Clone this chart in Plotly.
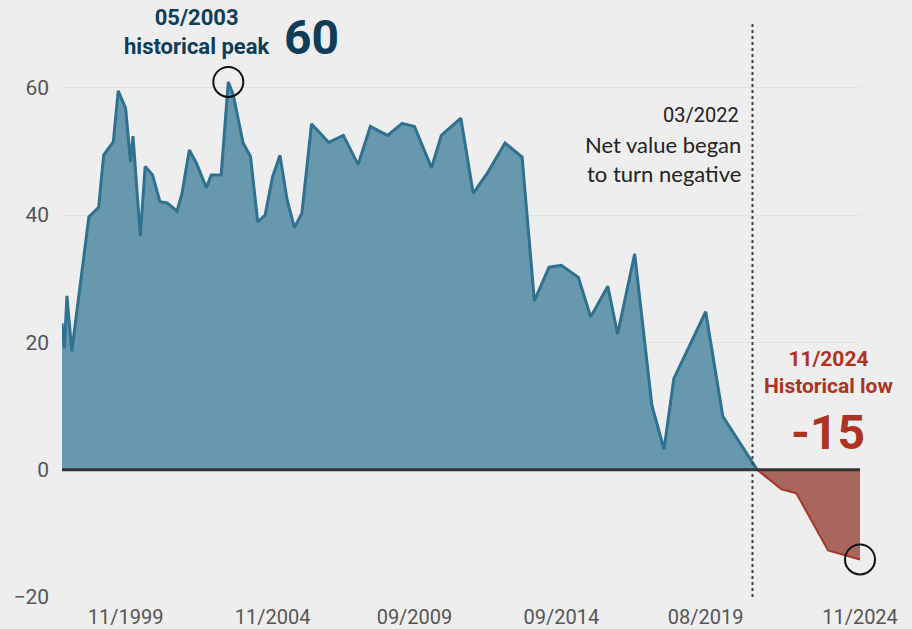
import plotly.graph_objects as go

# ---- data ----
dates = ["1997-09-01", "1997-10-01", "1997-11-01", "1998-01-01", "1998-08-01", "1998-11-01",
         "1998-12-01", "1999-02-01", "1999-04-01", "1999-06-01", "1999-08-01", "1999-11-01",
         "2000-01-01", "2000-02-01", "2000-05-01", "2000-07-01", "2000-10-01", "2001-01-01",
         "2001-04-01", "2001-08-01", "2001-10-01", "2002-01-01", "2002-04-01", "2002-08-01",
         "2002-10-01", "2003-02-01", "2003-05-01", "2003-07-01", "2003-11-01", "2004-02-01",
         "2004-05-01", "2004-08-01", "2004-11-01", "2005-02-01", "2005-05-01", "2005-08-01",
         "2005-11-01", "2006-03-01", "2006-10-01", "2007-04-01", "2007-10-01", "2008-03-01",
         "2008-10-01", "2009-04-01", "2009-09-01", "2010-04-01", "2010-08-01", "2011-04-01",
         "2011-09-01", "2012-03-01", "2012-10-01", "2013-05-01", "2013-10-01", "2014-04-01",
         "2014-09-01", "2015-04-01", "2015-09-01", "2016-04-01", "2016-08-01", "2017-03-01",
         "2017-10-01", "2018-03-01", "2018-07-01", "2019-08-01", "2020-03-01", "2021-05-01",
         "2022-03-01", "2022-09-01", "2023-10-01", "2024-11-01"]
values = [23.0, 19.1, 27.3, 18.6, 39.7, 40.8,
          41.2, 49.4, 50.5, 51.5, 59.5, 56.8,
          48.3, 52.4, 36.7, 47.6, 46.3, 42.1,
          41.9, 40.6, 43.3, 50.2, 48.1, 44.3,
          46.3, 46.3, 60.9, 58.9, 51.3, 49.2,
          38.9, 40.0, 46.0, 49.4, 42.4, 38.0,
          40.3, 54.3, 51.4, 52.5, 47.9, 53.9,
          52.5, 54.4, 53.9, 47.4, 52.5, 55.2,
          43.4, 46.7, 51.3, 49.1, 26.5, 31.8,
          32.1, 30.2, 24.0, 28.8, 21.3, 33.9,
          10.1, 3.2, 14.3, 24.8, 8.4, 0.0,
          -3.1, -3.7, -12.7, -14.1]

tick_dates = ["1999-11-01", "2004-11-01", "2009-09-01", "2014-09-01", "2019-08-01", "2024-11-01"]
tick_labels = ["11/1999", "11/2004", "09/2009", "09/2014", "08/2019", "11/2024"]
y_ticks = [-20, 0, 20, 40, 60]
turn_date = "2021-03-05"
peak_date, peak_value = "2003-05-01", 60.9
low_date, low_value = "2024-11-01", -14.1

# split at the zero crossing point
cross = values.index(0.0)
pos_x, pos_y = dates[:cross + 1], values[:cross + 1]
neg_x, neg_y = dates[cross:], values[cross:]

BLUE_LINE = "#2e7190"
BLUE_FILL = "#6898ad"
RED_LINE = "#a3382a"
RED_FILL = "#a8665c"
NAVY = "#0f3d57"
RED_TXT = "#ad3322"
BG = "#eeeeee"

fig = go.Figure()
fig.add_trace(go.Scatter(x=pos_x, y=pos_y, mode="lines", fill="tozeroy",
                         fillcolor=BLUE_FILL, line=dict(color=BLUE_LINE, width=3),
                         hoverinfo="skip", showlegend=False))
fig.add_trace(go.Scatter(x=neg_x, y=neg_y, mode="lines", fill="tozeroy",
                         fillcolor=RED_FILL, line=dict(color=RED_LINE, width=2),
                         hoverinfo="skip", showlegend=False))
fig.add_trace(go.Scatter(x=[peak_date, low_date], y=[peak_value, low_value], mode="markers",
                         marker=dict(symbol="circle-open", size=30, color="#111",
                                     line=dict(width=2, color="#111")),
                         hoverinfo="skip", showlegend=False, cliponaxis=False))

# zero line and turning point line
fig.add_shape(type="line", xref="paper", x0=0, x1=1, yref="y", y0=0, y1=0,
              line=dict(color="#333333", width=3), layer="above")
fig.add_shape(type="line", xref="x", x0=turn_date, x1=turn_date, yref="paper", y0=0, y1=1,
              line=dict(color="#444444", width=2, dash="dot"), layer="above")

# layout geometry
L, R, T, B = 62, 860, 24, 597
W, H = 912, 629


def px(xpix):
    return (xpix - L) / (R - L)


def py(ypix):
    return (B - ypix) / (B - T)


COND = "Roboto, Liberation Sans Narrow, sans-serif"
ann = [
    dict(text="<b>05/2003<br>historical peak</b>", x=px(196), y=py(32),
         font=dict(family=COND, size=22, color=NAVY)),
    dict(text="<b>60</b>", x=px(311), y=py(37),
         font=dict(family=COND, size=48, color=NAVY)),
    dict(text="03/2022", x=px(741), y=py(115), xanchor="right",
         font=dict(family=COND, size=20, color="#222222")),
    dict(text="Net value began<br>to turn negative", x=px(743), y=py(159), xanchor="right",
         align="right", font=dict(family="Lato, Noto Sans, sans-serif", size=22, color="#222222")),
    dict(text="<b>11/2024<br>Historical low</b>", x=px(828), y=py(372),
         font=dict(family=COND, size=21, color=RED_TXT)),
    dict(text="<b>-15</b>", x=px(828), y=py(432),
         font=dict(family=COND, size=48, color=RED_TXT)),
]
for a in ann:
    a.setdefault("xanchor", "center")
    a.setdefault("yanchor", "middle")
    a.update(xref="paper", yref="paper", showarrow=False)
fig.update_layout(annotations=ann)

fig.update_layout(
    width=W, height=H,
    margin=dict(l=L, r=W - R, t=T, b=H - B, pad=0, autoexpand=False),
    paper_bgcolor=BG, plot_bgcolor=BG,
    xaxis=dict(type="date", range=[dates[0], dates[-1]], tickvals=tick_dates,
               ticktext=tick_labels, showgrid=False, zeroline=False, showline=False,
               ticks="", ticklabelstandoff=6, automargin=False,
               tickfont=dict(family=COND, size=20, color="#555555")),
    yaxis=dict(range=[-20, 70], tickvals=y_ticks, showgrid=True, gridcolor="#e3e3e3",
               gridwidth=1, zeroline=False, showline=False, ticks="",
               ticklabelstandoff=12, automargin=False,
               tickfont=dict(family=COND, size=21, color="#555555")),
)

fig.write_html(
    "out.html",
    config={"displayModeBar": False},
    post_script="document.body.style.margin='0';document.body.style.background='#eeeeee';",
)
